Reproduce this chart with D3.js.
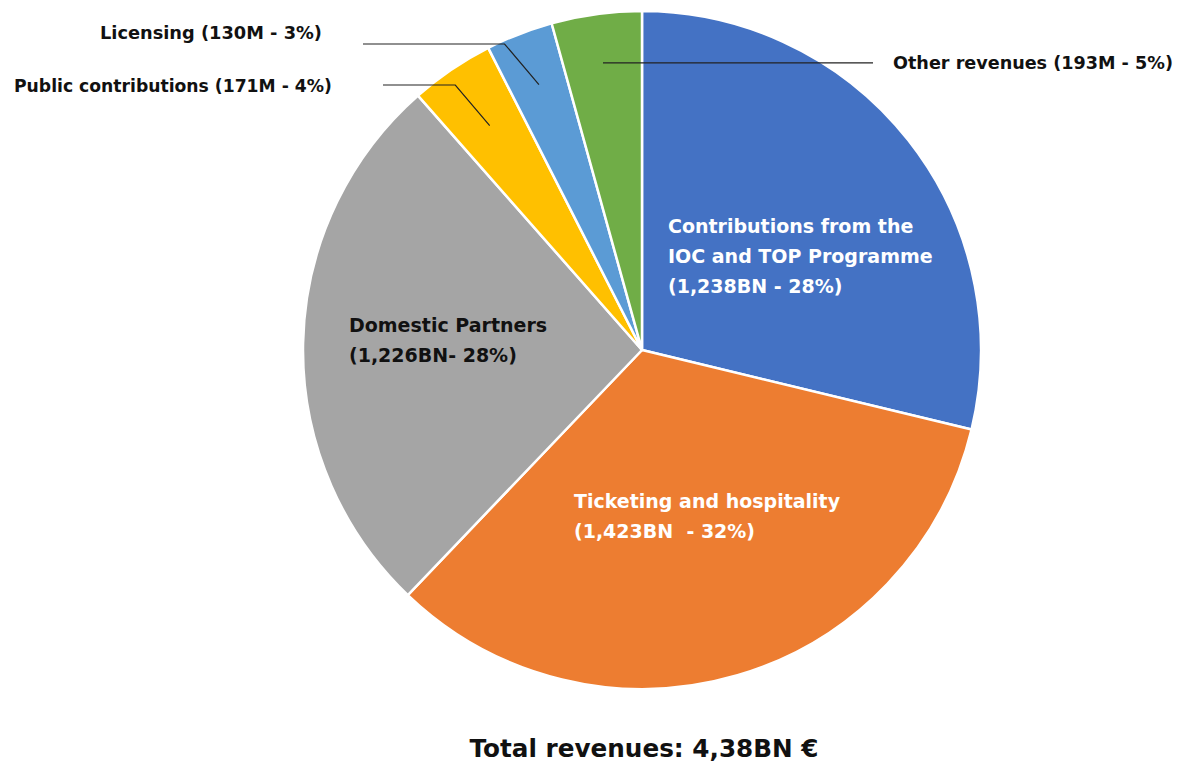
<!DOCTYPE html>
<html>
<script src="https://d3js.org/d3.v7.min.js"></script>
<style>
    body {
        margin: 0;
        background: #fff;
    }

    text {
        font-family: "DejaVu Sans", sans-serif;
        font-weight: bold;
        white-space: pre;
    }
</style>

<body>
</body>
<script>
    // revenue streams, clockwise from 12 o'clock
    const categories = ["Contributions from the IOC and TOP Programme", "Ticketing and hospitality",
        "Domestic Partners", "Public contributions", "Licensing", "Other revenues"];
    // slice sizes as drawn (share of the circle, %)
    const shares = [28.8, 33.4, 26.4, 4.0, 3.2, 4.3];
    // label lines exactly as printed
    const labelLines = [
        ["Contributions from the", "IOC and TOP Programme", "(1,238BN - 28%)"],
        ["Ticketing and hospitality", "(1,423BN  - 32%)"],
        ["Domestic Partners", "(1,226BN- 28%)"],
        ["Public contributions (171M - 4%)"],
        ["Licensing (130M - 3%)"],
        ["Other revenues (193M - 5%)"]
    ];
    const colors = ["#4472C4", "#ED7D31", "#A5A5A5", "#FFC000", "#5B9BD5", "#70AD47"];
    const totalText = "Total revenues: 4,38BN €";

    const width = 1178,
        height = 765;
    const cx = 642,
        cy = 350,
        radius = 339;

    const svg = d3.select("body").append("svg").attr("width", width).attr("height", height);
    const g = svg.append("g").attr("transform", `translate(${cx},${cy})`);

    const pie = d3.pie().sort(null).value(d => d);
    const arcs = pie(shares);
    const arc = d3.arc().innerRadius(0).outerRadius(radius);

    g.selectAll("path.slice")
        .data(arcs)
        .join("path")
        .attr("class", "slice")
        .attr("d", arc)
        .attr("fill", (d, i) => colors[i])
        .attr("stroke", "white")
        .attr("stroke-width", 2.5)
        .attr("stroke-linejoin", "round");

    // inside labels (offsets from the centre)
    const inside = [
        { i: 0, x: 26, y: -117, fill: "white" },
        { i: 1, x: -68, y: 158, fill: "white" },
        { i: 2, x: -293, y: -18, fill: "#111" }
    ];
    const lineH = 30;
    inside.forEach(l => {
        const t = g.append("text")
            .attr("x", l.x)
            .attr("y", l.y)
            .attr("font-size", 19)
            .attr("fill", l.fill);
        labelLines[l.i].forEach((s, k) => {
            t.append("tspan").attr("x", l.x).attr("dy", k ? lineH : 0).text(s);
        });
    });

    // outside labels with leader lines: spoke to the slice, then a horizontal run
    const outside = [
        { i: 3, r: 0.8, bendY: -265, lineEnd: -259, tx: -628, ty: -258, size: 17.2 },
        { i: 4, r: 0.84, bendY: -306, lineEnd: -279, tx: -542, ty: -311, size: 17.8 },
        { i: 5, r: 0.855, bendY: null, lineEnd: 231, tx: 251, ty: -281, size: 17.6 }
    ];
    const slope = 1.18;
    outside.forEach(o => {
        const a = arcs[o.i];
        const mid = (a.startAngle + a.endAngle) / 2;
        const px = Math.sin(mid) * radius * o.r,
            py = -Math.cos(mid) * radius * o.r;
        const pts = o.bendY === null ?
            [[px, py], [o.lineEnd, py]] :
            [[px, py], [px - (py - o.bendY) / slope, o.bendY], [o.lineEnd, o.bendY]];
        g.append("path")
            .attr("d", d3.line()(pts))
            .attr("fill", "none")
            .attr("stroke", "#222")
            .attr("stroke-width", 1.2);
        g.append("text")
            .attr("x", o.tx)
            .attr("y", o.ty)
            .attr("font-size", o.size)
            .attr("fill", "#111")
            .text(labelLines[o.i][0]);
    });

    svg.append("text")
        .attr("x", 644)
        .attr("y", 757)
        .attr("text-anchor", "middle")
        .attr("font-size", 24.7)
        .attr("fill", "#111")
        .text(totalText);
</script>

</html>
